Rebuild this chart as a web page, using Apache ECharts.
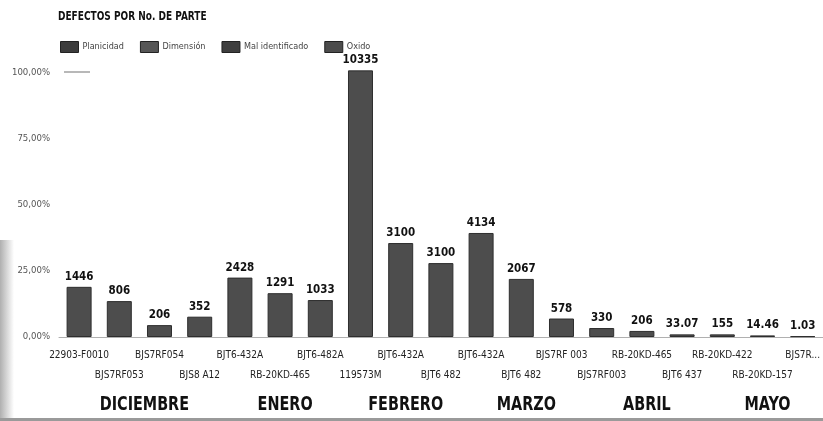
<!DOCTYPE html>
<html>
<head>
<meta charset="utf-8">
<script src="https://cdn.jsdelivr.net/npm/echarts@6/dist/echarts.min.js"></script>
<style>
html,body{margin:0;padding:0;background:#fff;}
#chart{width:823px;height:421px;}
</style>
</head>
<body>
<div id="chart"></div>
<script>
// ---- data ----
const categories = ['22903-F0010','BJS7RF053','BJS7RF054','BJS8 A12','BJT6-432A','RB-20KD-465','BJT6-482A','119573M','BJT6-432A','BJT6 482','BJT6-432A','BJT6 482','BJS7RF 003','BJS7RF003','RB-20KD-465','BJT6 437','RB-20KD-422','RB-20KD-157','BJS7R...'];
const percentValues = [19.0, 13.6, 4.5, 7.7, 22.5, 16.6, 14.0, 101, 35.6, 28.0, 39.4, 22.0, 7.0, 3.4, 2.3, 1.0, 1.0, 0.6, 0.3];
const valueLabels = ['1446','806','206','352','2428','1291','1033','10335','3100','3100','4134','2067','578','330','206','33.07','155','14.46','1.03'];
const legendNames = ['Planicidad','Dimensión','Mal identificado','Oxido'];
const yTicks = [0, 25, 50, 75, 100];
const titleText = 'DEFECTOS POR No. DE PARTE';
const months = ['DICIEMBRE','ENERO','FEBRERO','MARZO','ABRIL','MAYO'];
const monthStart = [0, 4, 7, 10, 13, 16];
const monthEnd = [3, 6, 9, 12, 15, 18];

const NARROW = '"Liberation Sans Narrow","DejaVu Sans Condensed","Arial Narrow",sans-serif';
const legendColors = ['#3c3c3c','#565656','#3e3e3e','#4c4c4c'];

const chart = echarts.init(document.getElementById('chart'));

const series = legendNames.map((name, si) => ({
  name: name,
  type: 'bar',
  stack: 'all',
  barWidth: 25,
  clip: false,
  data: si === 0 ? percentValues : [],
  itemStyle: { color: si === 0 ? '#4d4d4d' : legendColors[si], borderColor: '#2e2e2e', borderWidth: 1 },
  label: si === 0 ? {
    show: true, position: 'top', distance: 4,
    formatter: p => valueLabels[p.dataIndex],
    fontFamily: NARROW, fontWeight: 'bold', fontSize: 11.5, color: '#111'
  } : { show: false }
}));

chart.setOption({
  animation: false,
  backgroundColor: '#fff',
  legend: {
    left: 55, top: 36, itemWidth: 18, itemHeight: 11, itemGap: 16,
    icon: 'rect',
    data: legendNames.map((n, i) => ({ name: n, itemStyle: { color: legendColors[i], borderColor: '#222', borderWidth: 1 } })),
    textStyle: { fontFamily: NARROW, fontSize: 9, color: '#444', padding: [0, 0, 0, -1] }
  },
  grid: { left: 59, top: 73, width: 766, height: 264, containLabel: false },
  xAxis: {
    type: 'category', data: categories,
    axisLine: { show: true, lineStyle: { color: '#b0b0b0', width: 1 } },
    axisTick: { show: false },
    axisLabel: {
      interval: 0, margin: 8, lineHeight: 20,
      fontFamily: NARROW, fontSize: 10, color: '#222',
      formatter: (v, i) => (i % 2 === 1 ? '\n' + v : v)
    }
  },
  yAxis: {
    type: 'value', min: yTicks[0], max: yTicks[yTicks.length - 1], interval: yTicks[1] - yTicks[0],
    axisLine: { show: false }, axisTick: { show: false }, splitLine: { show: false },
    axisLabel: {
      margin: 9, fontFamily: NARROW, fontSize: 9.5, color: '#555',
      formatter: v => v.toFixed(2).replace('.', ',') + '%'
    }
  },
  series: series
});

// month group labels centred under their categories
const monthGraphics = months.map((m, i) => {
  const x0 = chart.convertToPixel({ xAxisIndex: 0 }, monthStart[i]);
  const x1 = chart.convertToPixel({ xAxisIndex: 0 }, monthEnd[i]);
  return {
    type: 'text', x: (x0 + x1) / 2 + 5, y: 405, scaleX: 0.8,
    style: { text: m, align: 'center', verticalAlign: 'middle', font: 'bold 20px ' + NARROW, fill: '#111' }
  };
});

chart.setOption({
  graphic: [
    { type: 'text', x: 58, y: 17, scaleX: 0.8,
      style: { text: titleText, align: 'left', verticalAlign: 'middle', font: 'bold 12.5px ' + NARROW, fill: '#111' } },
    { type: 'line', shape: { x1: 64, y1: 72, x2: 90, y2: 72 }, style: { stroke: '#888', lineWidth: 1.2 } },
    { type: 'rect', shape: { x: 0, y: 240, width: 14, height: 181 },
      style: { fill: new echarts.graphic.LinearGradient(0, 0, 1, 0, [
        { offset: 0, color: 'rgba(110,110,110,0.55)' }, { offset: 1, color: 'rgba(110,110,110,0)' }]) } },
    { type: 'rect', shape: { x: 0, y: 418, width: 823, height: 3 }, style: { fill: '#9a9a9a' } }
  ].concat(monthGraphics)
});
</script>
</body>
</html>
